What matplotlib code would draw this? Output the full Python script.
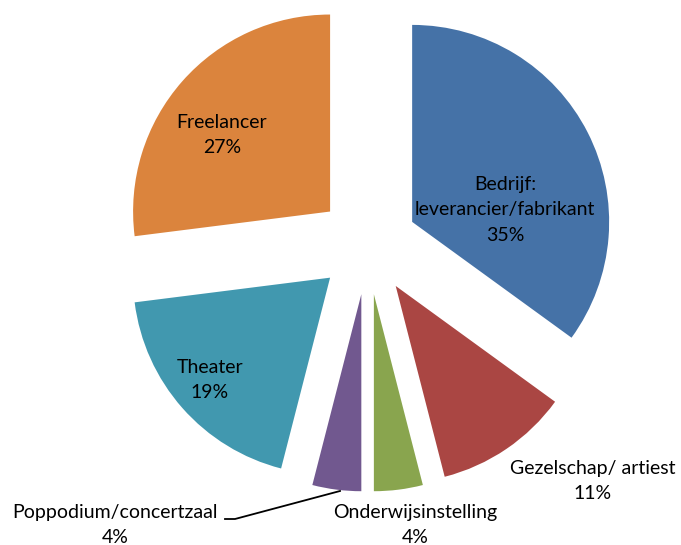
import matplotlib.pyplot as plt

# Aandeel per type opdrachtgever (%)
categorieen = ['Bedrijf:\nleverancier/fabrikant', 'Gezelschap/ artiest', 'Onderwijsinstelling',
               'Poppodium/concertzaal', 'Theater', 'Freelancer']
percentages = [35, 11, 4, 4, 19, 27]
kleuren = ['#4572A7', '#AA4643', '#89A54E', '#71588F', '#4198AF', '#DB843D']

# layout in pixels of the 681x545 image
W, H = 681, 545
cx, cy, R = 367.6, 244.6, 197.0


def px(x, y):
    return (x - cx) / R, (cy - y) / R


plt.rcParams['font.family'] = ['Lato', 'DejaVu Sans']
fig = plt.figure(figsize=(W / 100, H / 100), dpi=100)
ax = fig.add_axes([0, 0, 1, 1])

ax.pie(percentages, colors=kleuren, startangle=90, counterclock=False,
       radius=1, explode=[50 / R] * len(percentages),
       wedgeprops={'linewidth': 0})

# label posities (pixels)
label_pos = [(505, 210), (593, 481), (415, 525), (115, 525), (210, 380), (222, 135)]
for cat, p, (lx, ly) in zip(categorieen, percentages, label_pos):
    ax.text(*px(lx, ly), f'{cat}\n{p}%', ha='center', va='center',
            fontsize=14, linespacing=1.6, color='#000000')

# leader line voor Poppodium
lx, ly = zip(px(340, 491), px(235, 519), px(225, 519))
ax.plot(lx, ly, color='black', lw=1.3)

x0, y0 = px(0, H)
x1, y1 = px(W, 0)
ax.set_xlim(x0, x1)
ax.set_ylim(y0, y1)
ax.set_aspect('equal')
ax.axis('off')

fig.savefig('out.png', dpi=100)
